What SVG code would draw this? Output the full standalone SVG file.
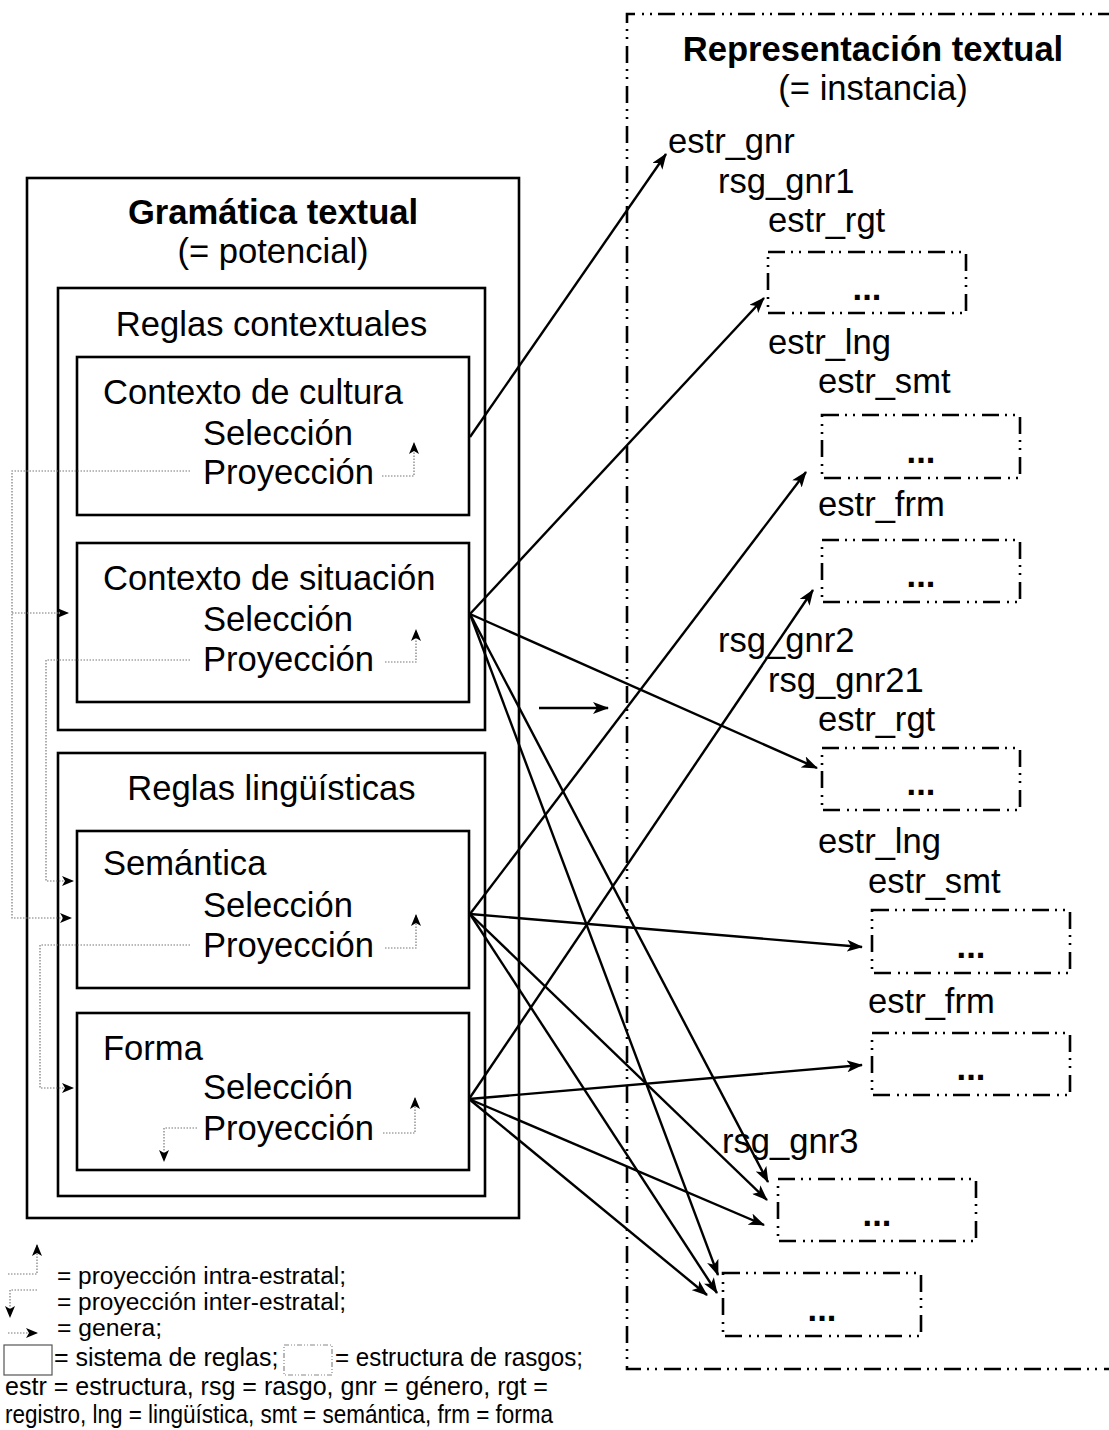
<svg xmlns="http://www.w3.org/2000/svg" width="1109" height="1430" viewBox="0 0 1109 1430">
<style>
text{font-family:"Liberation Sans",Arial,sans-serif;fill:#000}
.t{font-size:34.6px}
.b{font-weight:bold}
.m{text-anchor:middle}
.lg{font-size:25px}
.lg2{font-size:23.5px}
.box{fill:none;stroke:#000;stroke-width:2.6}
.fs{fill:none;stroke:#000;stroke-width:2.6;stroke-dasharray:17 6 2 6 2 7}
.con{fill:none;stroke:#000;stroke-width:2.4}
.dot{fill:none;stroke:#777;stroke-width:1.2;stroke-dasharray:1.5 1.5}
</style>
<defs>
<marker id="ah" viewBox="0 0 16 12" refX="15" refY="6" markerWidth="16" markerHeight="12" markerUnits="userSpaceOnUse" orient="auto">
<path d="M0,0 L16,6 L0,12 L4,6 Z" fill="#000"/>
</marker>
<marker id="sh" viewBox="0 0 12 10" refX="11" refY="5" markerWidth="12" markerHeight="10" markerUnits="userSpaceOnUse" orient="auto">
<path d="M0,0 L12,5 L0,10 L3,5 Z" fill="#000"/>
</marker>
</defs>

<g id="gramatica">
<rect class="box" x="27" y="178" width="492" height="1040"/>
<text class="t b m" x="273" y="224">Gramática textual</text>
<text class="t m" x="273" y="263">(= potencial)</text>
</g>
<g id="reglas-contextuales">
<rect class="box" x="58" y="288" width="427" height="442"/>
<text class="t m" x="271.5" y="336">Reglas contextuales</text>
</g>
<g id="contexto-cultura">
<rect class="box" x="77" y="357" width="392" height="158"/>
<text class="t" x="103" y="404">Contexto de cultura</text>
<text class="t" x="203" y="445">Selección</text>
<text class="t" x="203" y="484">Proyección</text>
</g>
<g id="contexto-situacion">
<rect class="box" x="77" y="543" width="392" height="159"/>
<text class="t" x="103" y="590">Contexto de situación</text>
<text class="t" x="203" y="631">Selección</text>
<text class="t" x="203" y="671">Proyección</text>
</g>
<g id="reglas-linguisticas">
<rect class="box" x="58" y="753" width="427" height="443"/>
<text class="t m" x="271.5" y="800">Reglas lingüísticas</text>
</g>
<g id="semantica">
<rect class="box" x="77" y="831" width="392" height="157"/>
<text class="t" x="103" y="875">Semántica</text>
<text class="t" x="203" y="917">Selección</text>
<text class="t" x="203" y="957">Proyección</text>
</g>
<g id="forma">
<rect class="box" x="77" y="1013" width="392" height="157"/>
<text class="t" x="103" y="1060">Forma</text>
<text class="t" x="203" y="1099">Selección</text>
<text class="t" x="203" y="1140">Proyección</text>
</g>

<g id="representacion">
<path class="fs" d="M1115,14 H627 V1369 H1115" stroke-width="2.2"/>
<text class="t b m" x="873" y="61">Representación textual</text>
<text class="t m" x="873" y="100">(= instancia)</text>
<text class="t" x="668" y="153">estr_gnr</text>
<text class="t" x="718" y="193">rsg_gnr1</text>
<text class="t" x="768" y="232">estr_rgt</text>
<text class="t" x="768" y="354">estr_lng</text>
<text class="t" x="818" y="393">estr_smt</text>
<text class="t" x="818" y="516">estr_frm</text>
<text class="t" x="718" y="652">rsg_gnr2</text>
<text class="t" x="768" y="692">rsg_gnr21</text>
<text class="t" x="818" y="731">estr_rgt</text>
<text class="t" x="818" y="853">estr_lng</text>
<text class="t" x="868" y="893">estr_smt</text>
<text class="t" x="868" y="1013">estr_frm</text>
<text class="t" x="722" y="1153">rsg_gnr3</text>
</g>
<g id="fs1"><rect class="fs" x="768" y="252" width="198" height="61"/><text class="t b m" x="867" y="300">...</text></g>
<g id="fs2"><rect class="fs" x="822" y="415" width="198" height="63"/><text class="t b m" x="921" y="463">...</text></g>
<g id="fs3"><rect class="fs" x="822" y="540" width="198" height="62"/><text class="t b m" x="921" y="587">...</text></g>
<g id="fs4"><rect class="fs" x="822" y="748" width="198" height="62"/><text class="t b m" x="921" y="795">...</text></g>
<g id="fs5"><rect class="fs" x="872" y="910" width="198" height="63"/><text class="t b m" x="971" y="958">...</text></g>
<g id="fs6"><rect class="fs" x="872" y="1033" width="198" height="62"/><text class="t b m" x="971" y="1080">...</text></g>
<g id="fs7"><rect class="fs" x="778" y="1179" width="198" height="62"/><text class="t b m" x="877" y="1226">...</text></g>
<g id="fs8"><rect class="fs" x="723" y="1273" width="198" height="63"/><text class="t b m" x="822" y="1321">...</text></g>

<g id="connectors">
<line class="con" x1="470" y1="437" x2="666" y2="154" marker-end="url(#ah)"/>
<line class="con" x1="470" y1="614" x2="764" y2="298" marker-end="url(#ah)"/>
<line class="con" x1="470" y1="614" x2="817" y2="768" marker-end="url(#ah)"/>
<line class="con" x1="470" y1="614" x2="768" y2="1182" marker-end="url(#ah)"/>
<line class="con" x1="470" y1="614" x2="718" y2="1275" marker-end="url(#ah)"/>
<line class="con" x1="470" y1="914" x2="806" y2="472" marker-end="url(#ah)"/>
<line class="con" x1="470" y1="914" x2="862" y2="947" marker-end="url(#ah)"/>
<line class="con" x1="470" y1="914" x2="767" y2="1200" marker-end="url(#ah)"/>
<line class="con" x1="470" y1="914" x2="717" y2="1293" marker-end="url(#ah)"/>
<line class="con" x1="469" y1="1099" x2="813" y2="590" marker-end="url(#ah)"/>
<line class="con" x1="469" y1="1099" x2="862" y2="1065" marker-end="url(#ah)"/>
<line class="con" x1="469" y1="1099" x2="764" y2="1225" marker-end="url(#ah)"/>
<line class="con" x1="469" y1="1099" x2="707" y2="1295" marker-end="url(#ah)"/>
<line class="con" x1="539" y1="708" x2="608" y2="708" marker-end="url(#ah)"/>
<path class="dot" d="M190,471 H12 V918 H71" marker-end="url(#sh)"/>
<path class="dot" d="M12,613 H68" marker-end="url(#sh)"/>
<path class="dot" d="M190,660 H46 V881 H73" marker-end="url(#sh)"/>
<path class="dot" d="M190,945 H40 V1088 H73" marker-end="url(#sh)"/>
<path class="dot" d="M197,1128 H164 V1161" marker-end="url(#sh)"/>
<path class="dot" d="M382,476 H414 V443" marker-end="url(#sh)"/>
<path class="dot" d="M385,662 H416 V630" marker-end="url(#sh)"/>
<path class="dot" d="M385,948 H416 V915" marker-end="url(#sh)"/>
<path class="dot" d="M383,1133 H415 V1098" marker-end="url(#sh)"/>
</g>

<g id="legend">
<path class="dot" d="M8,1274 H37 V1245" marker-end="url(#sh)"/>
<path class="dot" d="M37,1290 H10 V1317" marker-end="url(#sh)"/>
<path class="dot" d="M8,1333 H37" marker-end="url(#sh)"/>
<rect x="4" y="1345" width="48" height="30" fill="none" stroke="#555" stroke-width="1.2"/>
<rect x="284" y="1345" width="48" height="30" fill="none" stroke="#888" stroke-width="1.2" stroke-dasharray="5 2 1 2 1 2"/>
<text class="lg2" x="57" y="1284" textLength="289" lengthAdjust="spacingAndGlyphs">= proyección intra-estratal;</text>
<text class="lg2" x="57" y="1310" textLength="289" lengthAdjust="spacingAndGlyphs">= proyección inter-estratal;</text>
<text class="lg2" x="57" y="1336" textLength="105" lengthAdjust="spacingAndGlyphs">= genera;</text>
<text class="lg" x="54" y="1366">= sistema de reglas;</text>
<text class="lg" x="335" y="1366" textLength="248" lengthAdjust="spacingAndGlyphs">= estructura de rasgos;</text>
<text class="lg" x="5" y="1395" textLength="543" lengthAdjust="spacingAndGlyphs">estr = estructura, rsg = rasgo, gnr = género, rgt =</text>
<text class="lg" x="5" y="1423" textLength="548" lengthAdjust="spacingAndGlyphs">registro, lng = lingüística, smt = semántica, frm = forma</text>
</g>
</svg>
